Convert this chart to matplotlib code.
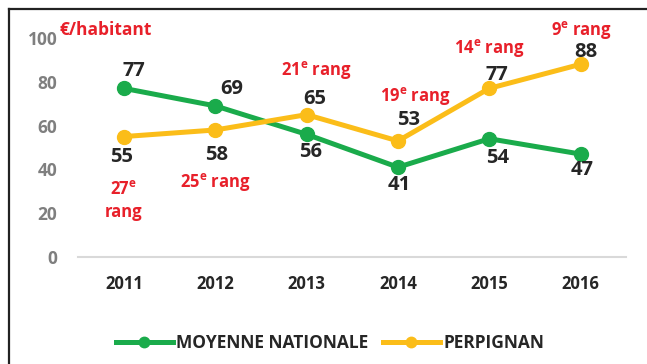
import matplotlib.pyplot as plt
from matplotlib.lines import Line2D

years = ['2011', '2012', '2013', '2014', '2015', '2016']
moyenne = [77, 69, 56, 41, 54, 47]
perpignan = [55, 58, 65, 53, 77, 88]

# rank of Perpignan, one entry per year
rangs = ['27$^{\\mathrm{e}}$\nrang', '25$^{\\mathrm{e}}$ rang', '21$^{\\mathrm{e}}$ rang',
         '19$^{\\mathrm{e}}$ rang', '14$^{\\mathrm{e}}$ rang', '9$^{\\mathrm{e}}$ rang']

GREEN = '#1aab4b'
YELLOW = '#fbbd19'
RED = '#e8202a'
DARK = '#262626'
FONT = ['Open Sans', 'DejaVu Sans']

plt.rcParams['font.family'] = FONT
plt.rcParams['font.weight'] = 'bold'
plt.rcParams['mathtext.fontset'] = 'custom'
plt.rcParams['mathtext.rm'] = 'Open Sans:bold'
plt.rcParams['mathtext.it'] = 'Open Sans:bold'
plt.rcParams['mathtext.bf'] = 'Open Sans:bold'

fig = plt.figure(figsize=(6.47, 3.64), dpi=100)
ax = fig.add_axes([78.3 / 647, 1 - 257 / 364, 548 / 647, 219 / 364])

x = range(len(years))
ax.plot(x, moyenne, color=GREEN, lw=3.6, marker='o', ms=10, label='MOYENNE NATIONALE')
ax.plot(x, perpignan, color=YELLOW, lw=3.6, marker='o', ms=10, label='PERPIGNAN')

ax.set_xlim(-0.5, 5.5)
ax.set_ylim(0, 100)
ax.set_yticks(range(0, 101, 20))
ax.set_xticks(list(x))
ax.set_xticklabels(years)
ax.tick_params(axis='y', length=0, pad=15, labelsize=12.5, labelcolor='#7f7f7f')
ax.tick_params(axis='x', length=0, pad=13, labelsize=12, labelcolor=DARK)
for s in ['top', 'right', 'left']:
    ax.spines[s].set_visible(False)
ax.spines['bottom'].set_color('#d9d9d9')
ax.spines['bottom'].set_linewidth(1.5)
ax.patch.set_alpha(0)

# value labels (pixel offsets from each marker)
green_off = [(10, 17), (16, 17), (4, -18), (1, -18), (8, -19), (1, -16)]
yellow_off = [(-2, -20), (1, -25), (8, 16), (11, 21), (8, 13), (5, 12)]
for i, (v, off) in enumerate(zip(moyenne, green_off)):
    ax.annotate(str(v), (i, v), xytext=off, textcoords='offset pixels',
                ha='center', va='center', fontsize=14.5, color=DARK)
for i, (v, off) in enumerate(zip(perpignan, yellow_off)):
    ax.annotate(str(v), (i, v), xytext=off, textcoords='offset pixels',
                ha='center', va='center', fontsize=14.5, color=DARK)

# rank labels in red
rang_off = [(0, -64), (0, -52), (10, 45), (17, 45), (0, 40), (1, 34)]
for i, (r, off) in enumerate(zip(rangs, rang_off)):
    ax.annotate(r, (i, perpignan[i]), xytext=off, textcoords='offset pixels',
                ha='center', va='center', fontsize=12, color=RED,
                linespacing=1.3)

fig.text(60 / 647, 1 - 30 / 364, '€/habitant', color=RED, fontsize=12.5,
         ha='left', va='center')

leg = fig.legend(loc='center', bbox_to_anchor=(330 / 647, 1 - 343 / 364), ncol=2,
                 frameon=False, fontsize=12.5, handlelength=3.3, handletextpad=0.2,
                 columnspacing=0.8, markerscale=0.75)
for t in leg.get_texts():
    t.set_color(DARK)

# frame on the left and top edges
fig.add_artist(Line2D([8.5 / 647, 8.5 / 647], [0, 1 - 8.5 / 364], color='#222222', lw=1.6))
fig.add_artist(Line2D([8.5 / 647, 1], [1 - 8.5 / 364, 1 - 8.5 / 364], color='#222222', lw=1.6))

fig.savefig('out.png', dpi=100)
